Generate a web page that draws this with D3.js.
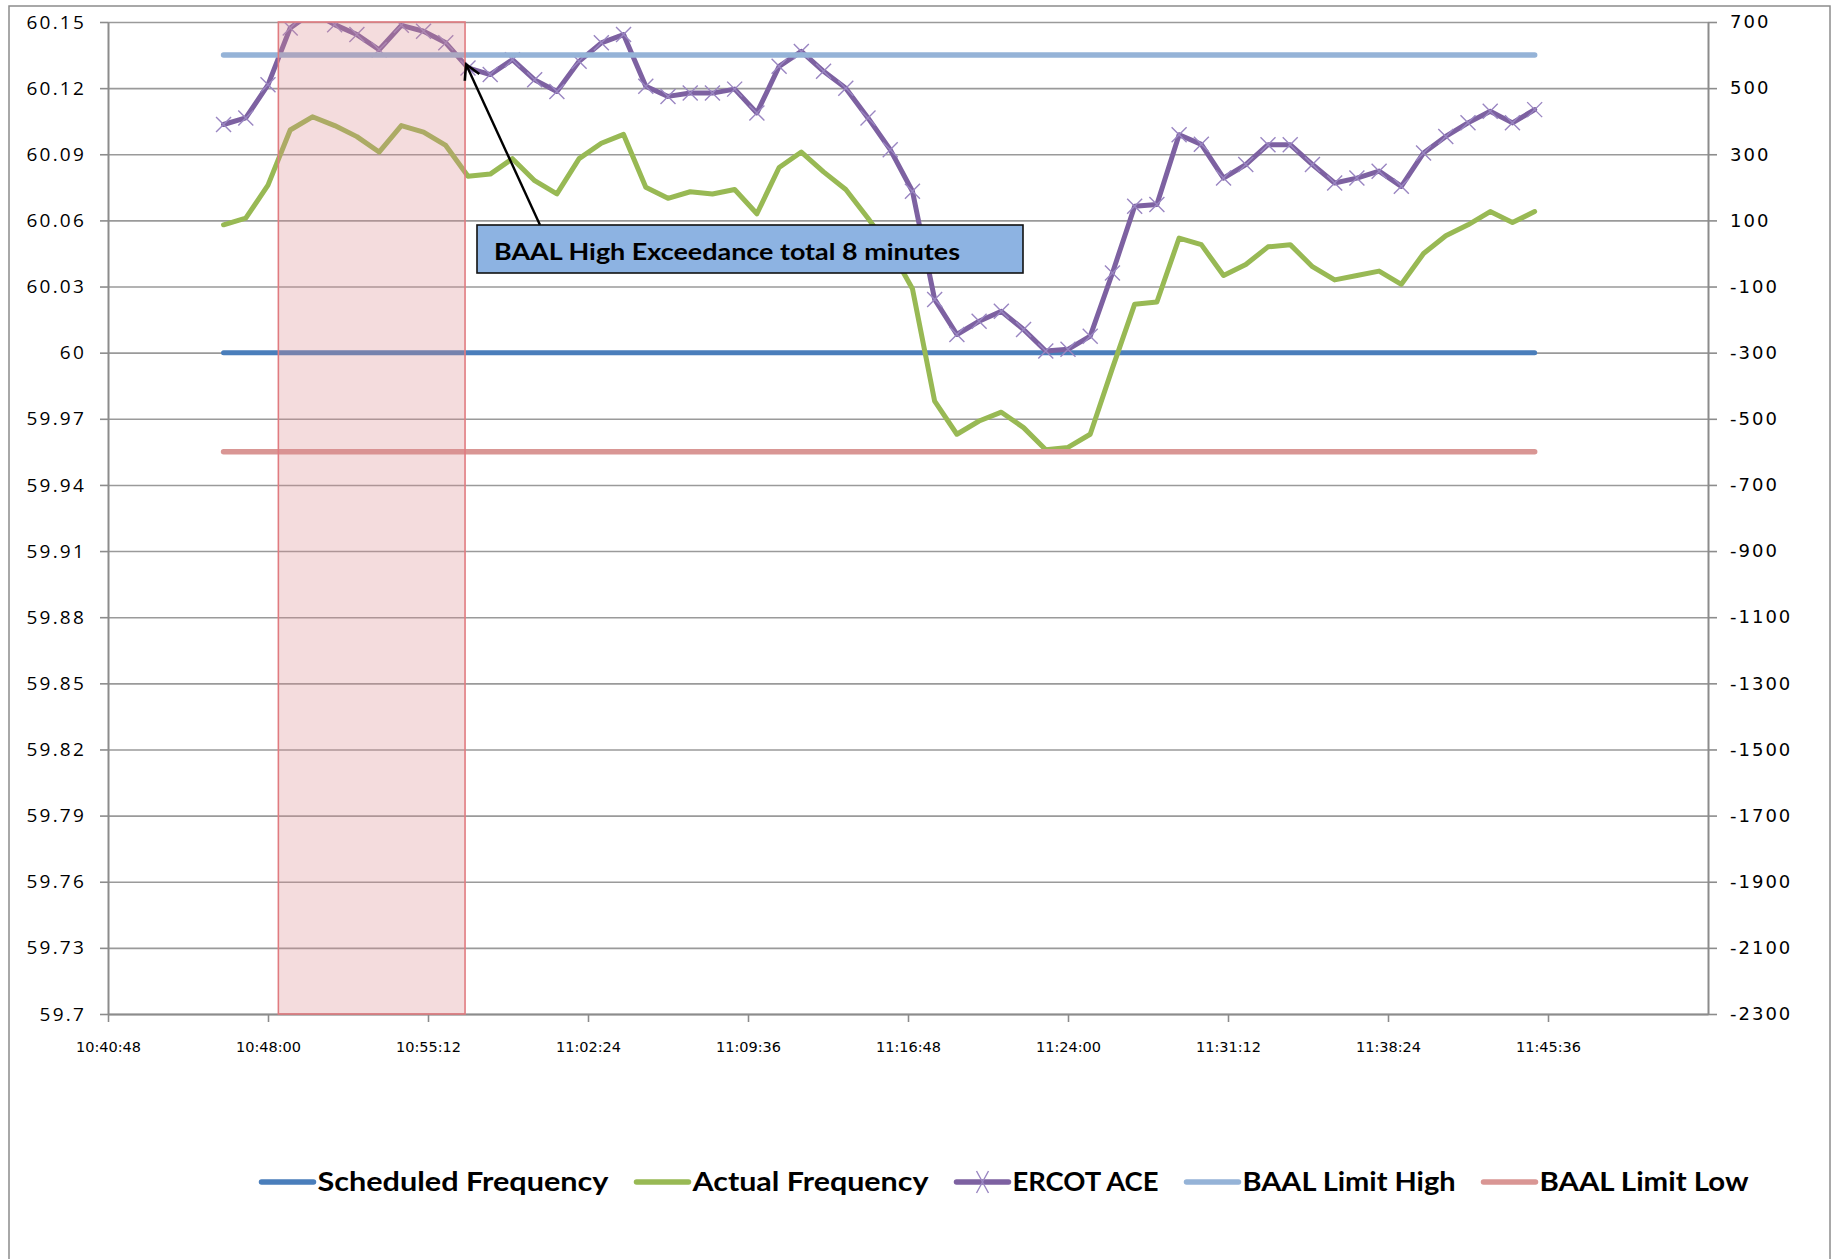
<!DOCTYPE html>
<html>
<head>
<meta charset="utf-8">
<script src="https://cdn.jsdelivr.net/npm/d3@7"></script>
<style>
  body { margin: 0; background: #fff; }
  svg { display: block; }
</style>
</head>
<body>
<svg id="chart" width="1833" height="1259"></svg>
<script>
// Data, one point per minute
//
const times = [
  "10:46","10:47","10:48","10:49","10:50","10:51","10:52","10:53","10:54","10:55",
  "10:56","10:57","10:58","10:59","11:00","11:01","11:02","11:03","11:04","11:05",
  "11:06","11:07","11:08","11:09","11:10","11:11","11:12","11:13","11:14","11:15",
  "11:16","11:17","11:18","11:19","11:20","11:21","11:22","11:23","11:24","11:25",
  "11:26","11:27","11:28","11:29","11:30","11:31","11:32","11:33","11:34","11:35",
  "11:36","11:37","11:38","11:39","11:40","11:41","11:42","11:43","11:44","11:45"
];

const actualFrequency = [
  60.058, 60.061, 60.076, 60.101, 60.107, 60.103, 60.098, 60.091, 60.103, 60.100,
  60.094, 60.080, 60.081, 60.088, 60.078, 60.072, 60.088, 60.095, 60.099, 60.075,
  60.070, 60.073, 60.072, 60.074, 60.063, 60.084, 60.091, 60.082, 60.074, 60.061,
  60.047, 60.029, 59.978, 59.963, 59.969, 59.973, 59.966, 59.956, 59.957, 59.963,
  59.993, 60.022, 60.023, 60.052, 60.049, 60.035, 60.040, 60.048, 60.049, 60.039,
  60.033, 60.035, 60.037, 60.031, 60.045, 60.053, 60.058, 60.064, 60.059, 60.064
];

const ercotAce = [
  390, 410, 510, 682, 730, 692, 662, 616, 690, 672,
  637, 561, 541, 586, 525, 490, 581, 637, 662, 506,
  475, 485, 485, 497, 425, 566, 611, 551, 500, 410,
  314, 188, -139, -245, -205, -175, -230, -295, -290, -250,
  -59, 143, 148, 359, 330, 228, 269, 329, 329, 269,
  213, 228, 249, 203, 304, 354, 395, 430, 395, 435
];

const scheduledFrequency = 60;
const baalLimitHigh = 600;
const baalLimitLow = -600;

const exceedanceWindow = ["10:48:28", "10:56:52"];
const annotationText = "BAAL High Exceedance total 8 minutes";

const freqTicks = [60.15, 60.12, 60.09, 60.06, 60.03, 60, 59.97, 59.94, 59.91, 59.88, 59.85, 59.82, 59.79, 59.76, 59.73, 59.7];
const aceTicks = [700, 500, 300, 100, -100, -300, -500, -700, -900, -1100, -1300, -1500, -1700, -1900, -2100, -2300];
const timeTicks = ["10:40:48","10:48:00","10:55:12","11:02:24","11:09:36","11:16:48","11:24:00","11:31:12","11:38:24","11:45:36"];
const timeDomain = ["10:40:48", "11:52:48"];

const seriesNames = ["Scheduled Frequency", "Actual Frequency", "ERCOT ACE", "BAAL Limit High", "BAAL Limit Low"];
const seriesColors = ["#4a7ebb", "#98b954", "#7d61a1", "#95b3d7", "#d99694"];


function chartApp() {
  const plot = { left: 108, right: 1708, top: 22, bottom: 1014 };
  const gridColor = "#9a9a9a";
  const legendTextWidths = [291, 236, 146, 213, 209]; // how wide each label sits in the picture

  // Utils
  //
  const p1 = d3.timeParse("%H:%M:%S");
  const p2 = d3.timeParse("%H:%M");
  function parseT(s) { return p1(s) || p2(s); }

  const x = d3.scaleTime()
    .domain(timeDomain.map(parseT))
    .range([plot.left, plot.right]);
  const yFreq = d3.scaleLinear().domain([59.7, 60.15]).range([plot.bottom, plot.top]);
  const yAce = d3.scaleLinear().domain([-2300, 700]).range([plot.bottom, plot.top]);

  const svg = d3.select("#chart");

  svg.append("defs").append("clipPath").attr("id", "plotclip")
    .append("rect")
    .attr("x", plot.left).attr("y", plot.top)
    .attr("width", plot.right - plot.left).attr("height", plot.bottom - plot.top);

  svg.select("defs").append("marker")
    .attr("id", "arrowhead")
    .attr("viewBox", "0 0 12 12")
    .attr("refX", 10).attr("refY", 6)
    .attr("markerWidth", 8).attr("markerHeight", 8)
    .attr("markerUnits", "strokeWidth")
    .attr("orient", "auto")
    .append("path")
    .attr("d", "M1,1 L10,6 L1,11")
    .attr("fill", "none")
    .attr("stroke", "#000")
    .attr("stroke-width", 1.6);

  // chart border
  svg.append("rect")
    .attr("x", 9).attr("y", 6)
    .attr("width", 1821).attr("height", 1280)
    .attr("fill", "none")
    .attr("stroke", "#8c8c8c")
    .attr("stroke-width", 1.5);

  // Gridlines
  //
  svg.append("g")
    .attr("transform", "translate(" + plot.left + ",0)")
    .call(d3.axisLeft(yFreq).tickValues(freqTicks).tickSize(-(plot.right - plot.left)).tickFormat(""))
    .call(g => g.select(".domain").remove())
    .selectAll("line")
    .attr("stroke", gridColor)
    .attr("stroke-width", 1.6);

  // Axes
  //
  let leftAxis = svg.append("g")
    .attr("transform", "translate(" + plot.left + ",0)")
    .call(d3.axisLeft(yFreq).tickValues(freqTicks).tickSize(8).tickSizeOuter(0).tickPadding(14)
      .tickFormat(d => String(+d.toFixed(2))));
  leftAxis.selectAll("text")
    .attr("font-family", "'Open Sans', sans-serif")
    .attr("font-size", 19)
    .attr("letter-spacing", 2.2)
    .attr("fill", "#000");

  let rightAxis = svg.append("g")
    .attr("transform", "translate(" + plot.right + ",0)")
    .call(d3.axisRight(yAce).tickValues(aceTicks).tickSize(9).tickSizeOuter(0).tickPadding(13)
      .tickFormat(d => String(d)));
  rightAxis.selectAll("text")
    .attr("font-family", "'DejaVu Sans', sans-serif")
    .attr("font-size", 18)
    .attr("letter-spacing", 2)
    .attr("fill", "#000");

  let bottomAxis = svg.append("g")
    .attr("transform", "translate(0," + plot.bottom + ")")
    .call(d3.axisBottom(x).tickValues(timeTicks.map(parseT)).tickSize(8).tickSizeOuter(0).tickPadding(20)
      .tickFormat(d3.timeFormat("%H:%M:%S")));
  bottomAxis.selectAll("text")
    .attr("font-family", "'DejaVu Sans', sans-serif")
    .attr("font-size", 14.5)
    .attr("fill", "#000");

  [leftAxis, rightAxis, bottomAxis].forEach(function (g) {
    g.select(".domain").attr("stroke", "#8c8c8c").attr("stroke-width", 2);
    g.selectAll(".tick line").attr("stroke", "#8c8c8c").attr("stroke-width", 1.6);
  });

  // Series
  //
  const pts = times.map(parseT);
  const layer = svg.append("g").attr("clip-path", "url(#plotclip)");

  function drawLine(values, yScale, color, width) {
    let line = d3.line()
      .x((d, i) => x(pts[i]))
      .y(d => yScale(d));
    layer.append("path")
      .datum(values)
      .attr("d", line)
      .attr("fill", "none")
      .attr("stroke", color)
      .attr("stroke-width", width)
      .attr("stroke-linejoin", "round")
      .attr("stroke-linecap", "round");
  }

  drawLine(times.map(() => scheduledFrequency), yFreq, seriesColors[0], 5);
  drawLine(actualFrequency, yFreq, seriesColors[1], 5);
  drawLine(ercotAce, yAce, seriesColors[2], 5);

  // x markers for ACE
  layer.append("g").selectAll("path")
    .data(ercotAce)
    .enter()
    .append("path")
    .attr("transform", (d, i) => "translate(" + x(pts[i]) + "," + yAce(d) + ")")
    .attr("d", "M-7.5,-7.5L7.5,7.5M-7.5,7.5L7.5,-7.5")
    .attr("stroke", "#9a86c2")
    .attr("stroke-width", 1.4)
    .attr("fill", "none");

  drawLine(times.map(() => baalLimitHigh), yAce, seriesColors[3], 5.5);
  drawLine(times.map(() => baalLimitLow), yAce, seriesColors[4], 5.5);

  // Exceedance window
  //
  let x0 = x(parseT(exceedanceWindow[0]));
  let x1 = x(parseT(exceedanceWindow[1]));
  svg.append("rect")
    .attr("x", x0).attr("y", plot.top)
    .attr("width", x1 - x0).attr("height", plot.bottom - plot.top)
    .attr("fill", "#d98a90")
    .attr("fill-opacity", 0.3)
    .attr("stroke", "#e07b80")
    .attr("stroke-width", 1.6);

  // Annotation box + arrow
  //
  const box = { x: 477, y: 225, w: 546, h: 48 };
  svg.append("line")
    .attr("x1", 540).attr("y1", box.y)
    .attr("x2", x1 + 1).attr("y2", yAce(572))
    .attr("stroke", "#000")
    .attr("stroke-width", 2.4)
    .attr("marker-end", "url(#arrowhead)");

  svg.append("rect")
    .attr("x", box.x).attr("y", box.y)
    .attr("width", box.w).attr("height", box.h)
    .attr("fill", "#8db3e2")
    .attr("stroke", "#111")
    .attr("stroke-width", 1.6);
  svg.append("text")
    .attr("x", 494).attr("y", 260)
    .attr("font-family", "Lato, sans-serif")
    .attr("font-weight", "bold")
    .attr("font-size", 23)
    .attr("textLength", 466)
    .attr("lengthAdjust", "spacingAndGlyphs")
    .text(annotationText);

  // Legend
  //
  const legendY = 1182;
  let legend = svg.append("g");
  let cursor = 0;
  seriesNames.forEach(function (name, i) {
    let g = legend.append("g");
    g.append("line")
      .attr("x1", cursor).attr("x2", cursor + 52)
      .attr("y1", legendY).attr("y2", legendY)
      .attr("stroke", seriesColors[i])
      .attr("stroke-width", 5.5)
      .attr("stroke-linecap", "round");
    if (name == "ERCOT ACE") {
      g.append("path")
        .attr("transform", "translate(" + (cursor + 26) + "," + legendY + ")")
        .attr("d", "M-6,-11L6,11M-6,11L6,-11")
        .attr("stroke", "#9a86c2")
        .attr("stroke-width", 1.4);
    }
    g.append("text")
      .attr("x", cursor + 56).attr("y", legendY + 9)
      .attr("font-family", "Lato, sans-serif")
      .attr("font-weight", "bold")
      .attr("font-size", 27)
      .attr("textLength", legendTextWidths[i])
      .attr("lengthAdjust", "spacingAndGlyphs")
      .text(name);
    cursor += 56 + legendTextWidths[i] + 28;
  });
  let legendWidth = cursor - 28;
  legend.attr("transform", "translate(" + (1005 - legendWidth / 2) + ",0)");
}

chartApp();
</script>
</body>
</html>
